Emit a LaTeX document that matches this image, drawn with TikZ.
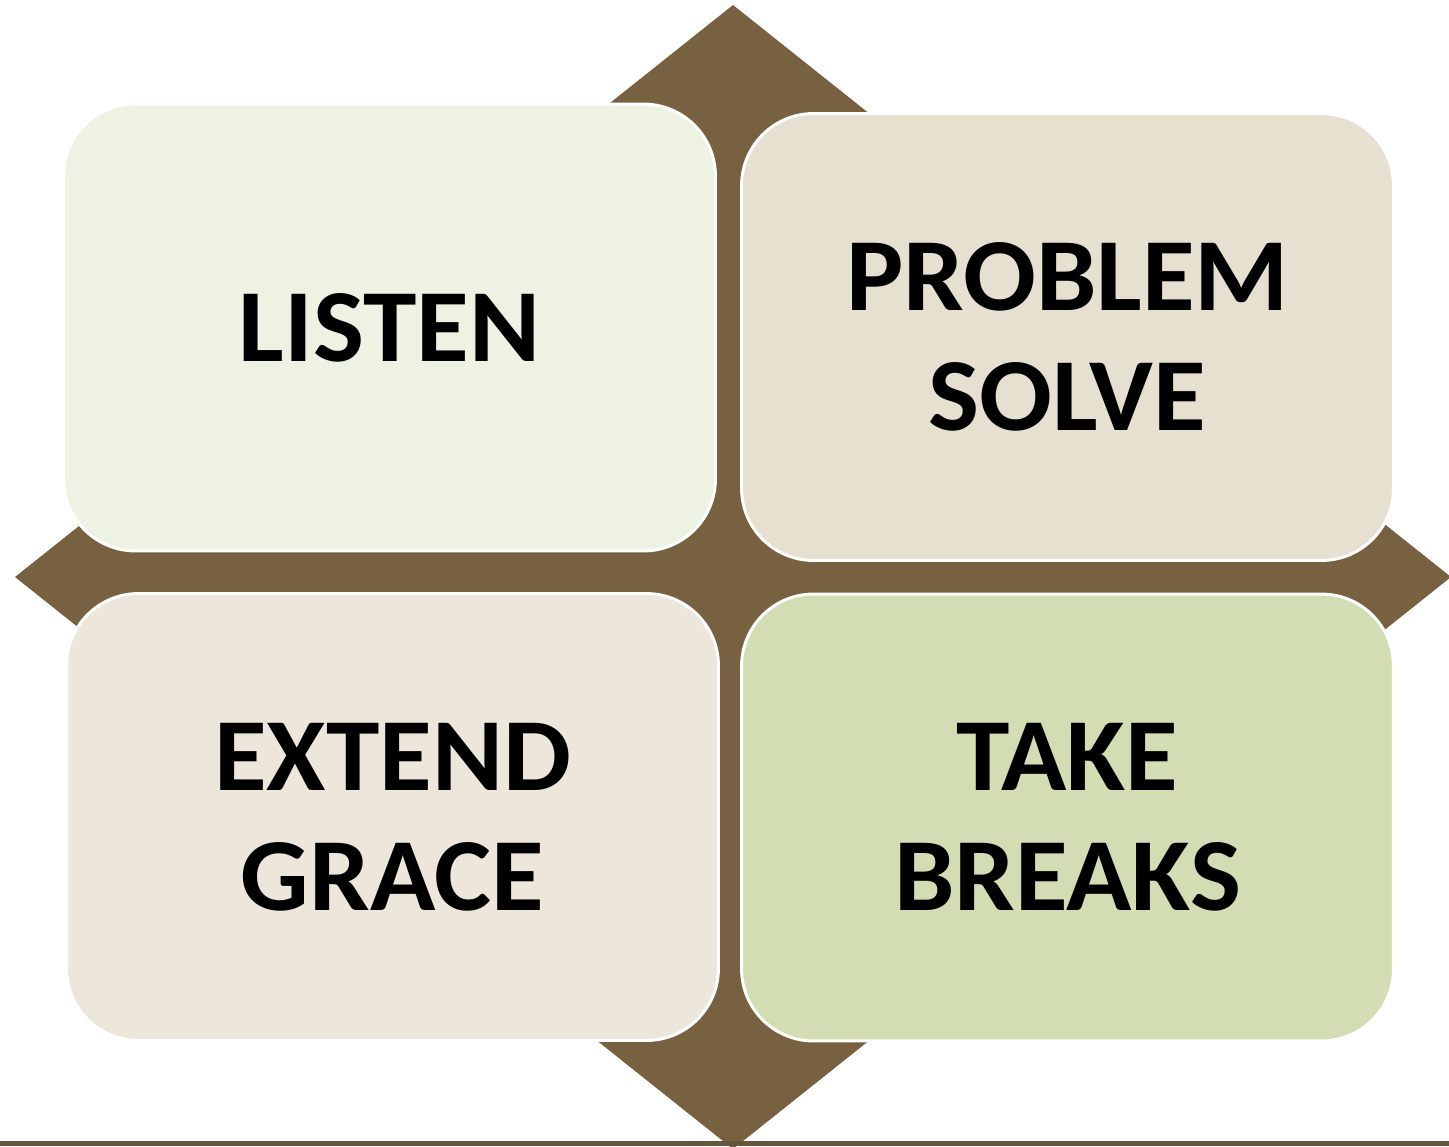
\documentclass[tikz,border=0pt]{standalone}
\usepackage{fontspec}
\setmainfont{Carlito}[FakeStretch=1.04]
\definecolor{earth}{HTML}{786140}
\definecolor{earthdark}{HTML}{66553A}
\definecolor{sage}{HTML}{EEF2E3}
\definecolor{sand}{HTML}{E6E0D0}
\definecolor{linen}{HTML}{ECE6DB}
\definecolor{moss}{HTML}{D3DDB3}

\begin{document}
\begin{tikzpicture}[x=0.02cm,y=-0.02cm,
    tile/.style={draw=white,line width=1.7pt,rounded corners=1.44cm,
        minimum width=13.04cm,minimum height=8.94cm,inner sep=0pt,
        align=center,font=\fontsize{59}{68.3}\selectfont\bfseries}]
    \useasboundingbox (0,0) rectangle (1449,1146);
    %diamond behind the tiles
    \fill[earth] (733,5) -- (1451,577) -- (733,1149) -- (15,577) -- cycle;

    \node[tile,fill=sage]  (listen)  at (389.5,327.5) {LISTEN};
    \node[tile,fill=sand]  (problem) at (1067.5,337)  {PROBLEM\\SOLVE};
    \node[tile,fill=linen] (extend)  at (392.5,817)   {EXTEND\\GRACE};
    \node[tile,fill=moss]  (breaks)  at (1067.5,817.5){TAKE\\BREAKS};

    %rule along the bottom
    \fill[earthdark] (0,1141) rectangle (1449,1146);
\end{tikzpicture}
\end{document}
